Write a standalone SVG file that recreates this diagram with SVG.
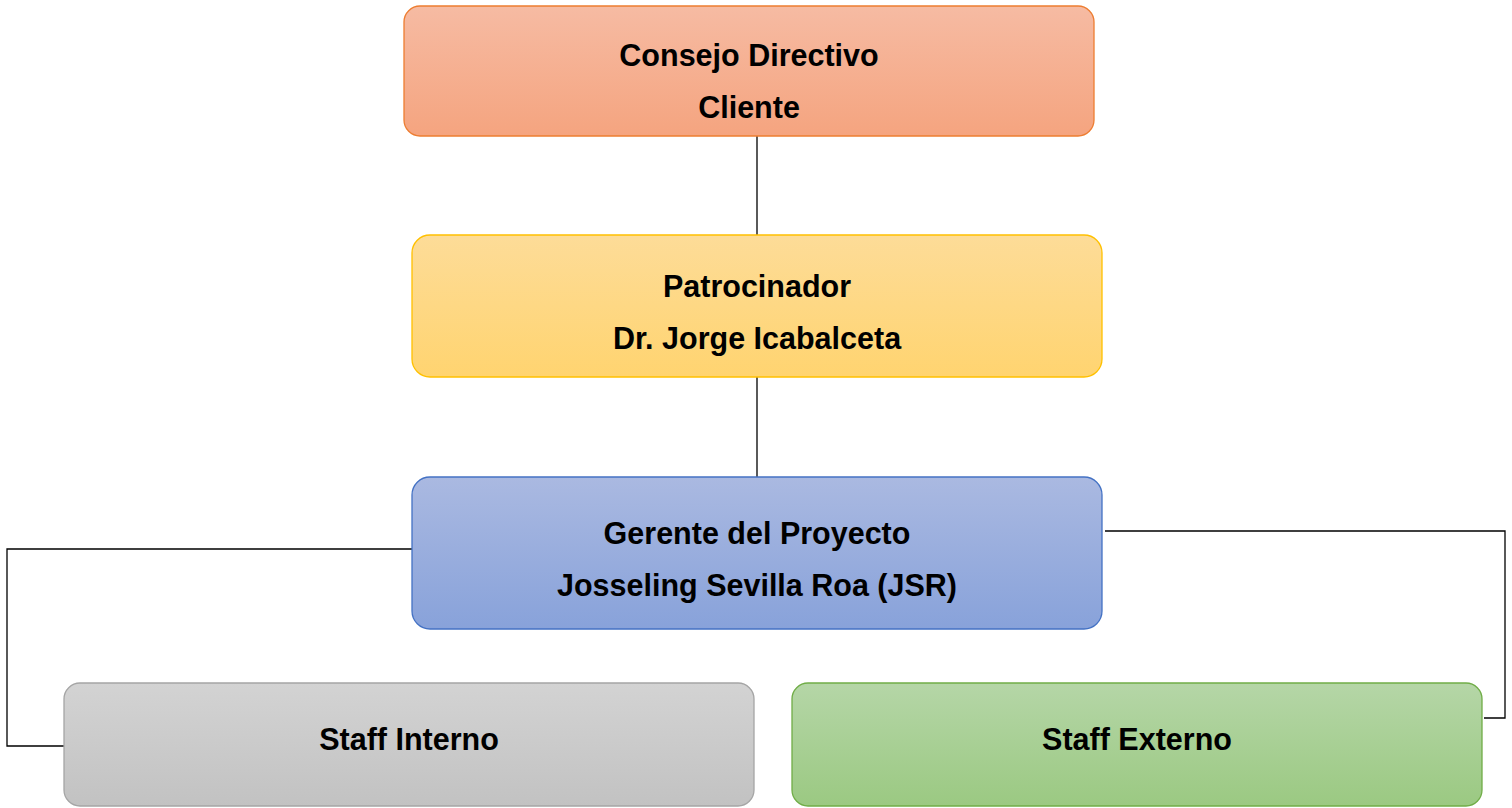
<svg xmlns="http://www.w3.org/2000/svg" width="1512" height="808" viewBox="0 0 1512 808">
<defs>
<linearGradient id="gO" x1="0" y1="0" x2="0" y2="1"><stop offset="0" stop-color="#F6BBA3"/><stop offset="1" stop-color="#F5A47F"/></linearGradient>
<linearGradient id="gY" x1="0" y1="0" x2="0" y2="1"><stop offset="0" stop-color="#FDDC98"/><stop offset="1" stop-color="#FFD470"/></linearGradient>
<linearGradient id="gB" x1="0" y1="0" x2="0" y2="1"><stop offset="0" stop-color="#AAB9E1"/><stop offset="1" stop-color="#88A2DA"/></linearGradient>
<linearGradient id="gG" x1="0" y1="0" x2="0" y2="1"><stop offset="0" stop-color="#D3D3D3"/><stop offset="1" stop-color="#C2C2C2"/></linearGradient>
<linearGradient id="gE" x1="0" y1="0" x2="0" y2="1"><stop offset="0" stop-color="#B5D6A7"/><stop offset="1" stop-color="#9BC982"/></linearGradient>
</defs>
<style>
.t{font-family:"Liberation Sans",Arial,sans-serif;font-weight:bold;font-size:30.5px;fill:#000;text-anchor:middle}
.c{fill:none;stroke:#000;stroke-width:1.3}
</style>
<rect width="1512" height="808" fill="#fff"/>
<g id="connectors">
<line class="c" x1="757" y1="136" x2="757" y2="235"/>
<line class="c" x1="757" y1="377" x2="757" y2="477"/>
<polyline class="c" points="412,549 7,549 7,746 67,746"/>
<polyline class="c" points="1105,531 1505,531 1505,718 1484,718"/>
</g>
<g id="consejo">
<rect x="404" y="6" width="690" height="130" rx="16" fill="url(#gO)" stroke="#ED7D31" stroke-width="1.3"/>
<text class="t" x="749" y="66">Consejo Directivo</text>
<text class="t" x="749" y="118">Cliente</text>
</g>
<g id="patrocinador">
<rect x="412" y="235" width="690" height="142" rx="18" fill="url(#gY)" stroke="#FFC000" stroke-width="1.3"/>
<text class="t" x="757" y="297">Patrocinador</text>
<text class="t" x="757" y="349">Dr. Jorge Icabalceta</text>
</g>
<g id="gerente">
<rect x="412" y="477" width="690" height="152" rx="18" fill="url(#gB)" stroke="#4472C4" stroke-width="1.3"/>
<text class="t" x="757" y="544">Gerente del Proyecto</text>
<text class="t" x="757" y="596">Josseling Sevilla Roa (JSR)</text>
</g>
<g id="staff-interno">
<rect x="64" y="683" width="690" height="123" rx="16" fill="url(#gG)" stroke="#A5A5A5" stroke-width="1.3"/>
<text class="t" x="409" y="750">Staff Interno</text>
</g>
<g id="staff-externo">
<rect x="792" y="683" width="690" height="123" rx="16" fill="url(#gE)" stroke="#70AD47" stroke-width="1.3"/>
<text class="t" x="1137" y="750">Staff Externo</text>
</g>
</svg>
